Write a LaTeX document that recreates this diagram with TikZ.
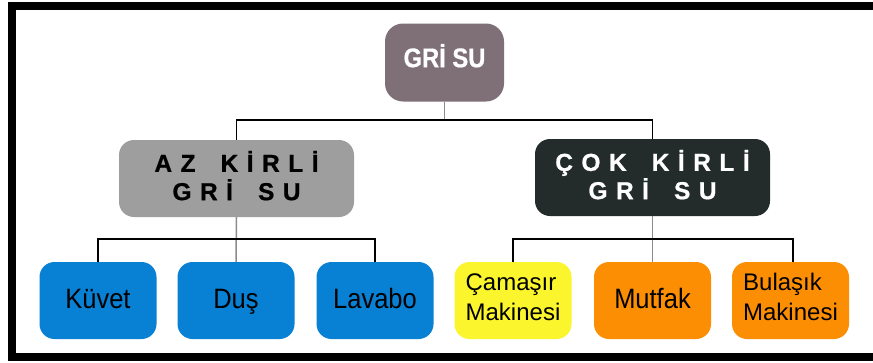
\documentclass[tikz,border=0pt]{standalone}
\usepackage{fontspec}
\setmainfont{Liberation Sans}
\newfontfamily\narrowfont{Liberation Sans}[FakeStretch=0.91]
\newfontfamily\topfont{Liberation Sans Bold}[FakeStretch=0.88,FakeBold=0.6]
\newfontfamily\hdrfont{Liberation Sans Bold}[FakeBold=0.8]
\makeatletter
\newcommand\spw[1]{\@tfor\myltr:=#1\do{\myltr\hspace{8.5pt}}\unskip}
\makeatother
\newcommand\upstrut[1]{\rule{0pt}{#1}}
\newcommand\dnstrut[1]{\rule[-#1]{0pt}{#1}}
\definecolor{cTop}{RGB}{127,112,120}
\definecolor{cAz}{RGB}{158,158,158}
\definecolor{cCok}{RGB}{35,43,43}
\definecolor{cBlue}{RGB}{8,128,212}
\definecolor{cYellow}{RGB}{250,245,45}
\definecolor{cOrange}{RGB}{252,142,4}
\definecolor{cLine}{RGB}{140,140,140}
\begin{document}
\begin{tikzpicture}[x=1pt,y=-1pt,
  box/.style={rounded corners=15pt,inner sep=0pt},
  leaf/.style={box,minimum width=117pt,minimum height=77pt,
    text height=20pt,text depth=4pt,
    font=\narrowfont\fontsize{28}{28}\selectfont,text=black},
  leaftwo/.style={box,minimum width=117pt,minimum height=77pt,align=left,
    font=\fontsize{24}{30}\selectfont,text=black},
  hdr/.style={box,minimum width=235pt,minimum height=77pt,align=center,
    font=\hdrfont\fontsize{24.5}{28.3}\selectfont},
  bar/.style={draw=black,line width=1.5pt},
  gline/.style={draw=cLine,line width=1.5pt}]
\useasboundingbox (0,0) rectangle (873,362);
\fill[white] (0,0) rectangle (873,362);
\draw[line width=8pt] (12,6) rectangle (900,357);
% nodes
\node[box,rounded corners=18pt,fill=cTop,minimum width=119pt,minimum height=78pt,
  text height=20pt,text depth=10.6pt,
  text=white,font=\topfont\fontsize{27}{28}\selectfont] (top) at (444.5,62.5) {GRİ SU};
\node[hdr,fill=cAz,text=black] (az) at (236.5,178.5)
  {\upstrut{24pt}\spw{AZ}\hspace{25pt}\spw{KİRLİ}\\\spw{GRİ}\hspace{25pt}\spw{SU}\dnstrut{9pt}};
\node[hdr,fill=cCok,text=white] (cok) at (652.5,177.5)
  {\upstrut{24pt}\spw{ÇOK}\hspace{25pt}\spw{KİRLİ}\\\spw{GRİ}\hspace{25pt}\spw{SU}\dnstrut{9pt}};
\node[leaf,fill=cBlue] (kuvet) at (98,300.5) {Küvet};
\node[leaf,fill=cBlue] (dus) at (236,300.5) {Duş};
\node[leaf,fill=cBlue] (lavabo) at (375,300.5) {Lavabo};
\node[leaftwo,fill=cYellow] (cam) at (513,300.5) {\upstrut{18pt}Çamaşır\\Makinesi\dnstrut{9pt}};
\node[leaf,fill=cOrange] (mutfak) at (652.5,300.5) {Mutfak};
\node[leaftwo,fill=cOrange] (bulasik) at (790.5,300.5) {\upstrut{18pt}Bulaşık\\Makinesi\dnstrut{9pt}};
% connectors
\coordinate (b1) at (444.5,120);
\draw[gline] (top.south) -- (b1);
\draw[bar] (az.north) |- (b1) -| (cok.north);
\draw[gline] (az.south) -- (dus.north);
\draw[gline] (cok.south) -- (mutfak.north);
\coordinate (b2) at (236,239);
\coordinate (b3) at (652.5,239);
\draw[bar] (kuvet.north) |- (b2) -| (lavabo.north);
\draw[bar] (cam.north) |- (b3) -| ([xshift=2.5pt]bulasik.north);
\end{tikzpicture}
\end{document}
